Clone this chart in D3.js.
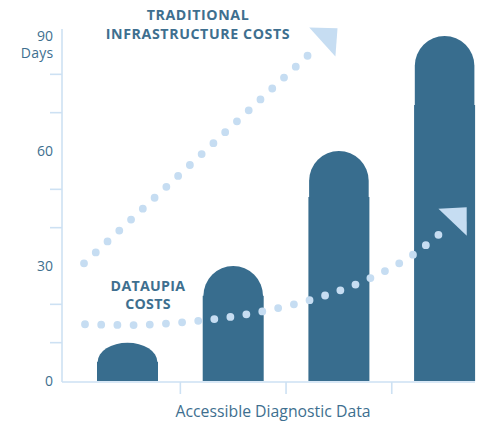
<!DOCTYPE html>
<html>
<head>
<meta charset="utf-8">
<script src="https://cdn.jsdelivr.net/npm/d3@7"></script>
<style>
  html, body { margin: 0; padding: 0; background: #fff; }
  svg { display: block; font-family: "Open Sans", "Noto Sans", sans-serif; }
</style>
</head>
<body>
<svg id="chart" width="483" height="423"></svg>
<script>
// ---- data ----
const categories = ["Level 1", "Level 2", "Level 3", "Level 4"];
const barValues = [10, 30, 60, 90];
const yTickValues = [0, 10, 20, 30, 40, 50, 60, 70, 80, 90];
const yLabelValues = [0, 30, 60, 90];
// dotted trend lines: position (0 = first bar centre, 3 = last bar centre) and days
const tradPos = [-0.4115, 1.8146];
const tradDays = [30.7, 87.7];
const tradArrowTip = [1.987, 92.0];
const dataupiaPos = [-0.402, 0.049, 0.509, 0.967, 1.421, 1.869, 2.294, 2.698, 3.058];
const dataupiaDays = [14.8, 14.6, 15.3, 16.7, 19.0, 22.3, 26.8, 32.9, 40.9];
const dataupiaArrowTip = [3.209, 45.3];
const xAxisTitle = "Accessible Diagnostic Data";
const yAxisUnit = "Days";
const tradLabel = ["TRADITIONAL", "INFRASTRUCTURE COSTS"];
const dataupiaLabel = ["DATAUPIA", "COSTS"];

// ---- styles ----
const barColor = "#386d8e";
const dotColor = "#c6ddf2";
const axisColor = "#cde1f3";
const textColor = "#3e6f8f";

const svg = d3.select("#chart");

const x = d3.scaleBand().domain(categories).range([74.65, 497.45])
  .paddingInner(0.423).paddingOuter(0.2115);
const y = d3.scaleLinear().domain([0, 90]).range([381, 36]);
const centre = c => x(c) + x.bandwidth() / 2;
const xp = d3.scaleLinear().domain([0, 3])
  .range([centre(categories[0]), centre(categories[3])]);

const axisLeftX = 62, axisRightX = 475;

// ---- axes ----
const gAxis = svg.append("g");
gAxis.append("line")
  .attr("x1", axisLeftX).attr("x2", axisLeftX)
  .attr("y1", 29).attr("y2", y(0) + 1)
  .attr("stroke", axisColor).attr("stroke-width", 1.6);
gAxis.append("line")
  .attr("x1", axisLeftX).attr("x2", axisRightX)
  .attr("y1", y(0) + 1).attr("y2", y(0) + 1)
  .attr("stroke", axisColor).attr("stroke-width", 1.6);
gAxis.selectAll(".ytick")
  .data(yTickValues.filter(v => !yLabelValues.includes(v)))
  .join("line")
  .attr("x1", axisLeftX - 12).attr("x2", axisLeftX)
  .attr("y1", d => y(d)).attr("y2", d => y(d))
  .attr("stroke", axisColor).attr("stroke-width", 1.6);
gAxis.selectAll(".ylab")
  .data(yLabelValues)
  .join("text")
  .attr("x", 53).attr("y", d => y(d) + 4.7)
  .attr("text-anchor", "end")
  .attr("font-size", 14)
  .attr("fill", textColor)
  .text(d => d);
gAxis.append("text")
  .attr("x", 53.5).attr("y", 57.7)
  .attr("text-anchor", "end")
  .attr("font-size", 14)
  .attr("letter-spacing", 0.3)
  .attr("fill", textColor)
  .text(yAxisUnit);
// x ticks at band boundaries
const boundaries = categories.slice(1).map(c => x(c) - (x.step() - x.bandwidth()) / 2);
gAxis.selectAll(".xtick")
  .data(boundaries)
  .join("line")
  .attr("x1", d => d).attr("x2", d => d)
  .attr("y1", y(0) + 1).attr("y2", y(0) + 13)
  .attr("stroke", axisColor).attr("stroke-width", 1.6);
gAxis.append("text")
  .attr("x", 273).attr("y", 416.7)
  .attr("text-anchor", "middle")
  .attr("font-size", 15.8)
  .attr("fill", textColor)
  .text(xAxisTitle);

// ---- bars ----
const gBars = svg.append("g");
categories.forEach((c, i) => {
  const v = barValues[i];
  const x0 = x(c), w = x.bandwidth();
  const top = y(v), base = y(0);
  const h = base - top;
  const inset = 0.7;
  const rx = (w - 2 * inset) / 2;
  const ry = Math.min(rx, h / 2);
  const bodyH = Math.min(0.8 * h, h - ry);
  gBars.append("rect")
    .attr("x", x0).attr("y", base - bodyH)
    .attr("width", w).attr("height", bodyH)
    .attr("fill", barColor);
  gBars.append("path")
    .attr("d", `M${x0 + inset},${base} L${x0 + inset},${top + ry} ` +
      `A${rx},${ry} 0 0 1 ${x0 + w - inset},${top + ry} L${x0 + w - inset},${base} Z`)
    .attr("fill", barColor);
});

// ---- dotted trends ----
function dotted(posArr, dayArr, tip, curve) {
  const pts = posArr.map((p, i) => [xp(p), y(dayArr[i])]);
  const line = d3.line().curve(curve);
  // arrow head
  const last = pts[pts.length - 1];
  const tp = [xp(tip[0]), y(tip[1])];
  const dx = tp[0] - last[0], dy = tp[1] - last[1];
  const len = Math.hypot(dx, dy);
  const ux = dx / len, uy = dy / len;
  const aLen = 20.5, aHalf = 19.5;
  const bx = tp[0] - ux * aLen, by = tp[1] - uy * aLen;
  const p1 = [bx - uy * aHalf, by + ux * aHalf];
  const p2 = [bx + uy * aHalf, by - ux * aHalf];
  svg.append("path")
    .attr("d", `M${tp[0]},${tp[1]} L${p1[0]},${p1[1]} L${p2[0]},${p2[1]} Z`)
    .attr("fill", dotColor);
  const path = svg.append("path")
    .attr("d", line(pts))
    .attr("fill", "none")
    .attr("stroke", dotColor)
    .attr("stroke-width", 7.8)
    .attr("stroke-linecap", "round");
  const L = path.node().getTotalLength();
  const n = Math.round(L / 16.1);
  path.attr("stroke-dasharray", `0,${L / n}`);
}
dotted(tradPos, tradDays, tradArrowTip, d3.curveLinear);
dotted(dataupiaPos, dataupiaDays, dataupiaArrowTip, d3.curveMonotoneX);

// ---- labels ----
const gLab = svg.append("g")
  .attr("font-weight", "bold").attr("font-size", 14.2)
  .attr("letter-spacing", 0.6)
  .attr("fill", textColor).attr("text-anchor", "middle");
gLab.append("text").attr("x", 198).attr("y", 20).text(tradLabel[0]);
gLab.append("text").attr("x", 198).attr("y", 39.3).text(tradLabel[1]);
gLab.append("text").attr("x", 148).attr("y", 290.7).attr("letter-spacing", 0.3).text(dataupiaLabel[0]);
gLab.append("text").attr("x", 148).attr("y", 309.3).attr("letter-spacing", 0.3).text(dataupiaLabel[1]);
</script>
</body>
</html>
